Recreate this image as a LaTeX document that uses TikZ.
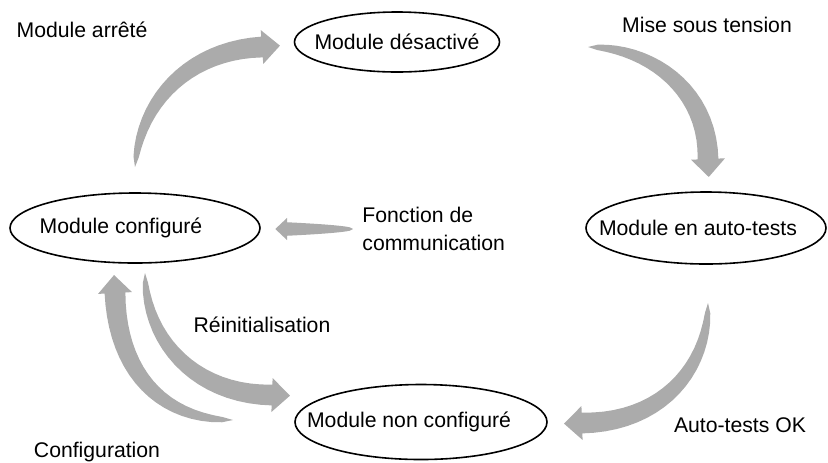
\documentclass[tikz,border=0pt]{standalone}
\usepackage{fontspec}
\setmainfont{Liberation Sans}
\usetikzlibrary{shapes.geometric, calc}
\definecolor{arrgray}{HTML}{ABABAB}
\tikzset{
  etat/.style = {ellipse, draw=black, line width=0.8pt, inner sep=0pt},
  lbl/.style  = {inner sep=0pt}
}
% tapered grey arrow: scale, tail, control 1, control 2, head base
\newcommand{\fatarrow}[5]{%
  \foreach \k in {0,...,20}{%
    \pgfmathsetmacro\fapos{\k/20}%
    \path (#2) .. controls (#3) and (#4) .. (#5) coordinate[pos=\fapos] (fa\k);
  }%
  \coordinate (fa21) at ($(fa20)!-2pt!(fa19)$);
  \foreach \k [evaluate=\k as \faw using {(0.2+5*sqrt(\k/20))*#1},
               evaluate=\k as \fan using {int(\k+1)}] in {1,...,20}{%
    \coordinate (faL\k) at ($(fa\k)!\faw pt!90:(fa\fan)$);
    \coordinate (faR\k) at ($(fa\k)!\faw pt!-90:(fa\fan)$);
  }%
  \pgfmathsetmacro\fahw{8.5*#1}%
  \pgfmathsetmacro\fahl{9*#1}%
  \coordinate (faHL) at ($(fa20)!\fahw pt!90:(fa21)$);
  \coordinate (faHR) at ($(fa20)!\fahw pt!-90:(fa21)$);
  \coordinate (faTip) at ($(fa20)!\fahl pt!(fa21)$);
  \fill[arrgray] (fa0) \foreach \k in {1,...,20}{ -- (faL\k) }
    -- (faHL) -- (faTip) -- (faHR)
    \foreach \k in {20,...,1}{ -- (faR\k) } -- cycle;
}

\begin{document}
\begin{tikzpicture}[x=0.5pt, y=-0.5pt, font=\fontsize{10.6}{14}\selectfont]
  \useasboundingbox (0,0) rectangle (828,462);
  % states
  \node[etat, minimum width=102.5pt, minimum height=30pt,
        label={center:Module désactivé}] (off) at (397,42) {};
  \node[etat, minimum width=120pt, minimum height=36pt,
        label={[xshift=-4pt]center:Module en auto-tests}] (test) at (706,228) {};
  \node[etat, minimum width=125pt, minimum height=35pt,
        label={[xshift=-7pt]center:Module configuré}] (cfg) at (135,228) {};
  \node[etat, minimum width=126pt, minimum height=37.5pt,
        label={[xshift=-6pt]center:Module non configuré}] (unc) at (421,422) {};
  % transition labels
  \node[lbl, anchor=base] (stopped) at (82,37) {Module arrêté};
  \node[lbl, anchor=base] (powerup) at (707,32) {Mise sous tension};
  \node[lbl, anchor=north west, align=left] (comm) at (362,207)
       {Fonction de\\communication};
  \node[lbl, anchor=base] (reinit) at (262,332) {Réinitialisation};
  \node[lbl, anchor=base] (testok) at (740,432) {Auto-tests OK};
  \node[lbl, anchor=base] (config) at (97,457) {Configuration};
  % arrows
  \coordinate (a1t) at (135,167);  \coordinate (a1b) at (262,47);
  \fatarrow{1}{a1t}{140,100}{190,50}{a1b}
  \coordinate (a2t) at (588,47);   \coordinate (a2b) at (708,159);
  \fatarrow{1}{a2t}{650,47}{708,90}{a2b}
  \coordinate (a3t) at (708,303);  \coordinate (a3b) at (582,423);
  \fatarrow{1}{a3t}{708,370}{660,423}{a3b}
  \coordinate (a4t) at (353,229);  \coordinate (a4b) at (287,229);
  \fatarrow{0.65}{a4t}{331,229}{309,229}{a4b}
  \coordinate (a5t) at (145,273);  \coordinate (a5b) at (272,395);
  \fatarrow{1}{a5t}{145,340}{195,395}{a5b}
  \coordinate (a6t) at (233,420);  \coordinate (a6b) at (115,293);
  \fatarrow{1}{a6t}{160,420}{117,370}{a6b}
\end{tikzpicture}
\end{document}
